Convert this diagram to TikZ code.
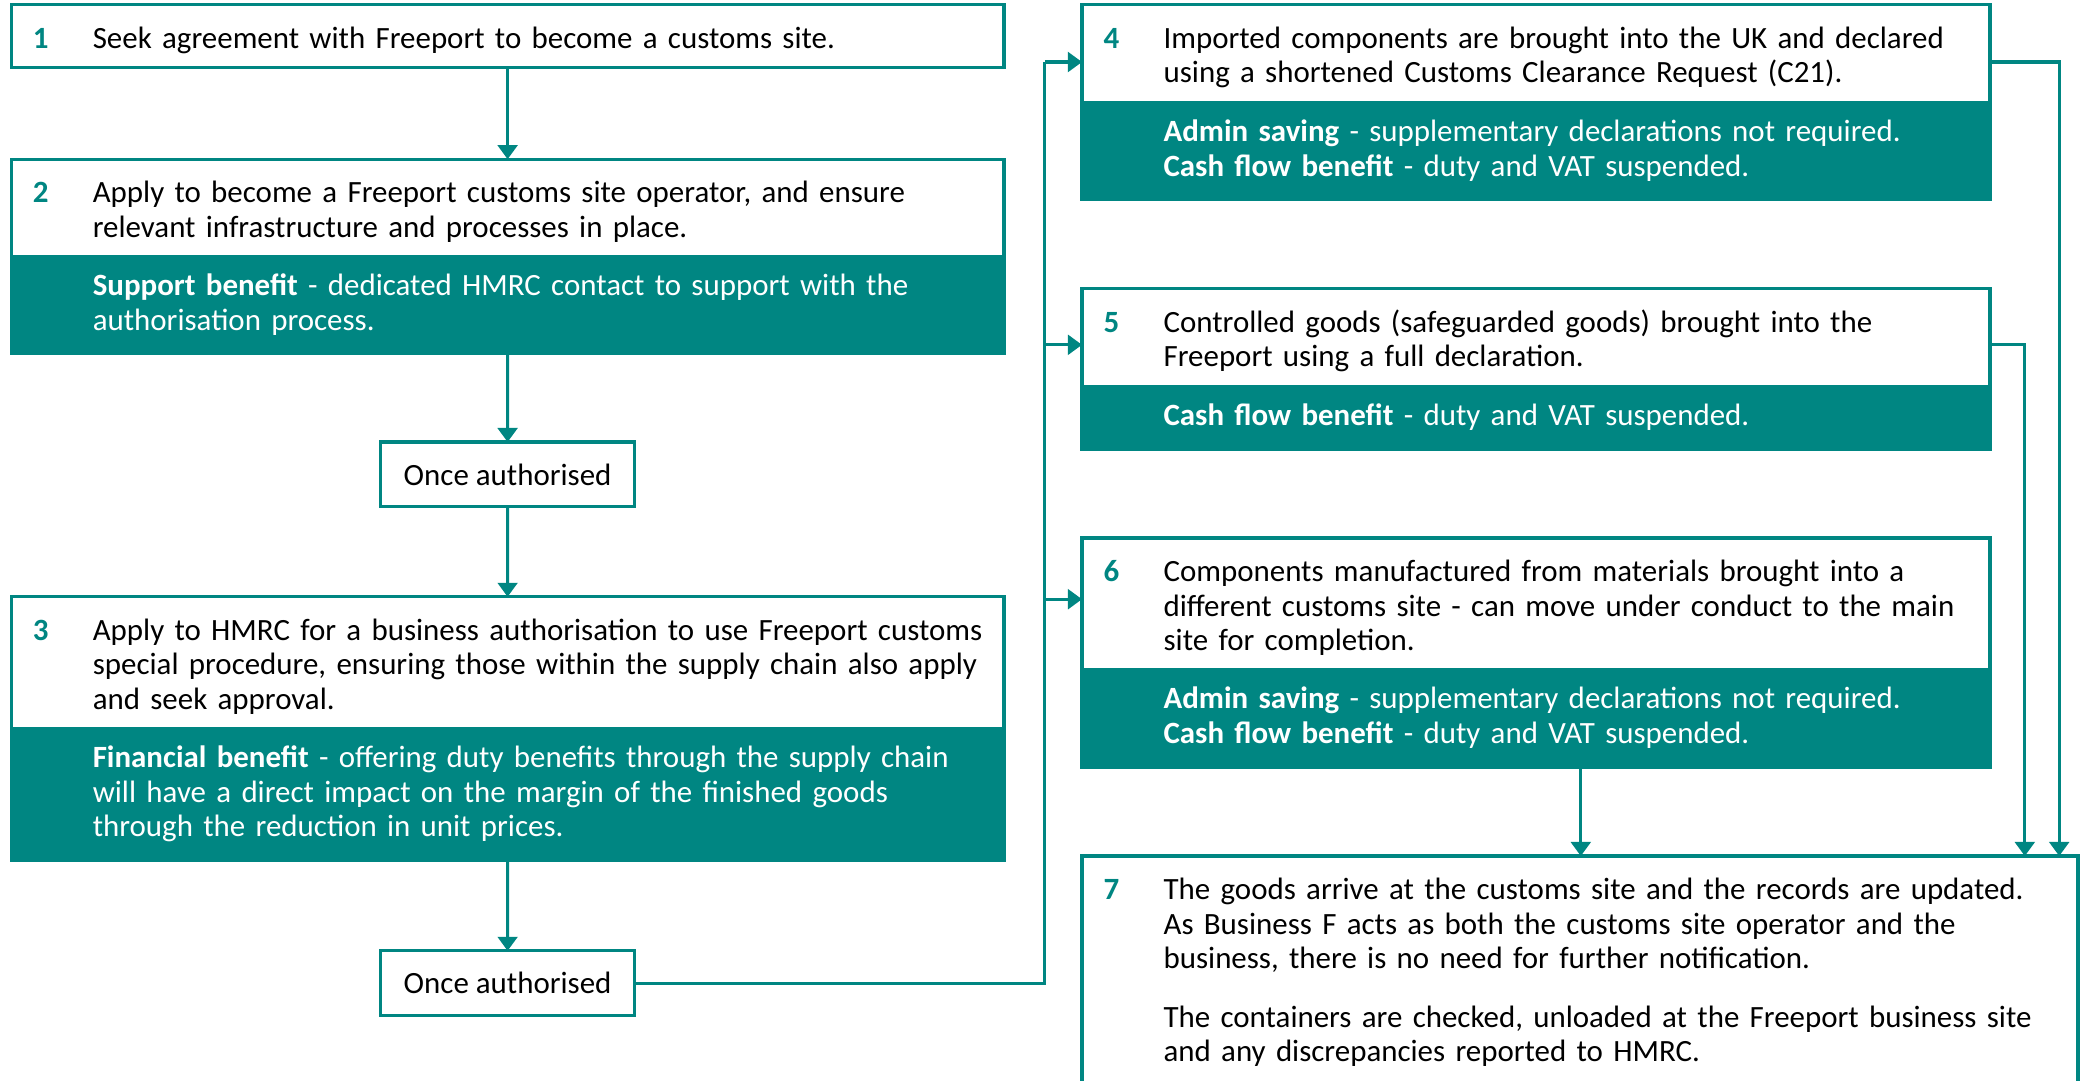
\documentclass[tikz,border=0pt]{standalone}
\usepackage{fontspec}
\setmainfont{Carlito}
\usepackage{xcolor}
\usetikzlibrary{arrows.meta}

\definecolor{fpteal}{RGB}{0,134,130}
\newcommand{\stepnum}[1]{\llap{\makebox[1.02cm][l]{\hspace{0.27cm}\textcolor{fpteal}{\bfseries #1}}}}

\begin{document}
\begin{tikzpicture}[
  every node/.style={font=\fontsize{11}{12.3}\selectfont, outer sep=0pt},
  boxbase/.style={draw=fpteal, line width=1.1pt, anchor=north west,
    inner xsep=0pt, inner ysep=5pt, text width=#1, align=left,
    execute at begin node={\leftskip=1.02cm\rightskip=-0.3cm plus 1fil}},
  stepbox/.style={boxbase=#1, fill=white,
    execute at begin node={\rule{0pt}{10.5pt}},
    execute at end node={\rule[-1.8pt]{0pt}{1.8pt}}},
  benefitbox/.style={boxbase=#1, fill=fpteal, text=white,
    execute at begin node={\rule{0pt}{8.9pt}},
    execute at end node={\rule[-3.4pt]{0pt}{3.4pt}}},
  oabox/.style={draw=fpteal, line width=1.1pt, fill=white, inner sep=0pt,
    minimum width=3.17cm, minimum height=0.81cm},
  flow/.style={draw=fpteal, line width=1.1pt, -{Triangle[width=7pt,length=5pt]}},
  link/.style={draw=fpteal, line width=1.1pt}
]

\useasboundingbox (0,0) rectangle (26,-13.5);
\clip (0,0) rectangle (26,-13.5);

\node[stepbox=12.41cm] (b1) at (0.14,-0.06) {\stepnum{1}Seek agreement with Freeport to become a customs site.};

\node[stepbox=12.41cm] (b2) at (0.14,-1.99) {\stepnum{2}Apply to become a Freeport customs site operator, and ensure\\
relevant infrastructure and processes in place.};
\node[benefitbox=12.41cm] (b2b) at (b2.south west) {\textbf{Support benefit} - dedicated HMRC contact to support with the\\
authorisation process.};

\node[oabox] (oa1) at (6.345,-5.93) {Once authorised};

\node[stepbox=12.41cm] (b3) at (0.14,-7.46) {\stepnum{3}Apply to HMRC for a business authorisation to use Freeport customs\\
special procedure, ensuring those within the supply chain also apply\\
and seek approval.};
\node[benefitbox=12.41cm] (b3b) at (b3.south west) {\textbf{Financial benefit} - offering duty benefits through the supply chain\\
will have a direct impact on the margin of the finished goods\\
through the reduction in unit prices.};

\node[oabox] (oa2) at (6.345,-12.29) {Once authorised};

\node[stepbox=11.35cm] (b4) at (13.525,-0.06) {\stepnum{4}Imported components are brought into the UK and declared\\
using a shortened Customs Clearance Request (C21).};
\node[benefitbox=11.35cm] (b4b) at (b4.south west) {\textbf{Admin saving} - supplementary declarations not required.\\
\textbf{Cash flow benefit} - duty and VAT suspended.};

\node[stepbox=11.35cm] (b5) at (13.525,-3.61) {\stepnum{5}Controlled goods (safeguarded goods) brought into the\\
Freeport using a full declaration.};
\node[benefitbox=11.35cm] (b5b) at (b5.south west) {\textbf{Cash flow benefit} - duty and VAT suspended.};

\node[stepbox=11.35cm] (b6) at (13.525,-6.725) {\stepnum{6}Components manufactured from materials brought into a\\
different customs site - can move under conduct to the main\\
site for completion.};
\node[benefitbox=11.35cm] (b6b) at (b6.south west) {\textbf{Admin saving} - supplementary declarations not required.\\
\textbf{Cash flow benefit} - duty and VAT suspended.};

\node[stepbox=12.45cm, draw=none] (b7) at (13.525,-10.7) {\stepnum{7}The goods arrive at the customs site and the records are updated.\\
As Business F acts as both the customs site operator and the\\
business, there is no need for further notification.\\[8.5pt]
The containers are checked, unloaded at the Freeport business site\\
and any discrepancies reported to HMRC.};
\draw[link] (b7.north west |- 0,-13.8) -- (b7.north west) -- (b7.north east) -- (b7.north east |- 0,-13.8);

\draw[flow] (b1.south) -- (b2.north);
\draw[flow] (b2b.south) -- (oa1.north);
\draw[flow] (oa1.south) -- (b3.north);
\draw[flow] (b3b.south) -- (oa2.north);

\coordinate (bus4) at (13.06,-0.775);
\coordinate (bus5) at (13.06,-4.31);
\coordinate (bus6) at (13.06,-7.49);
\draw[link] (oa2.east) -| (bus4);
\draw[flow] (bus4) -- (bus4 -| b4.west);
\draw[flow] (bus5) -- (bus5 -| b5.west);
\draw[flow] (bus6) -- (bus6 -| b6.west);

\coordinate (r4) at (25.74,0);
\coordinate (r5) at (25.31,0);
\coordinate (c6) at (19.76,0);
\draw[flow] (bus4 -| b4.east) -| (r4 |- b7.north);
\draw[flow] (bus5 -| b5.east) -| (r5 |- b7.north);
\draw[flow] (c6 |- b6b.south) -- (c6 |- b7.north);

\end{tikzpicture}
\end{document}
